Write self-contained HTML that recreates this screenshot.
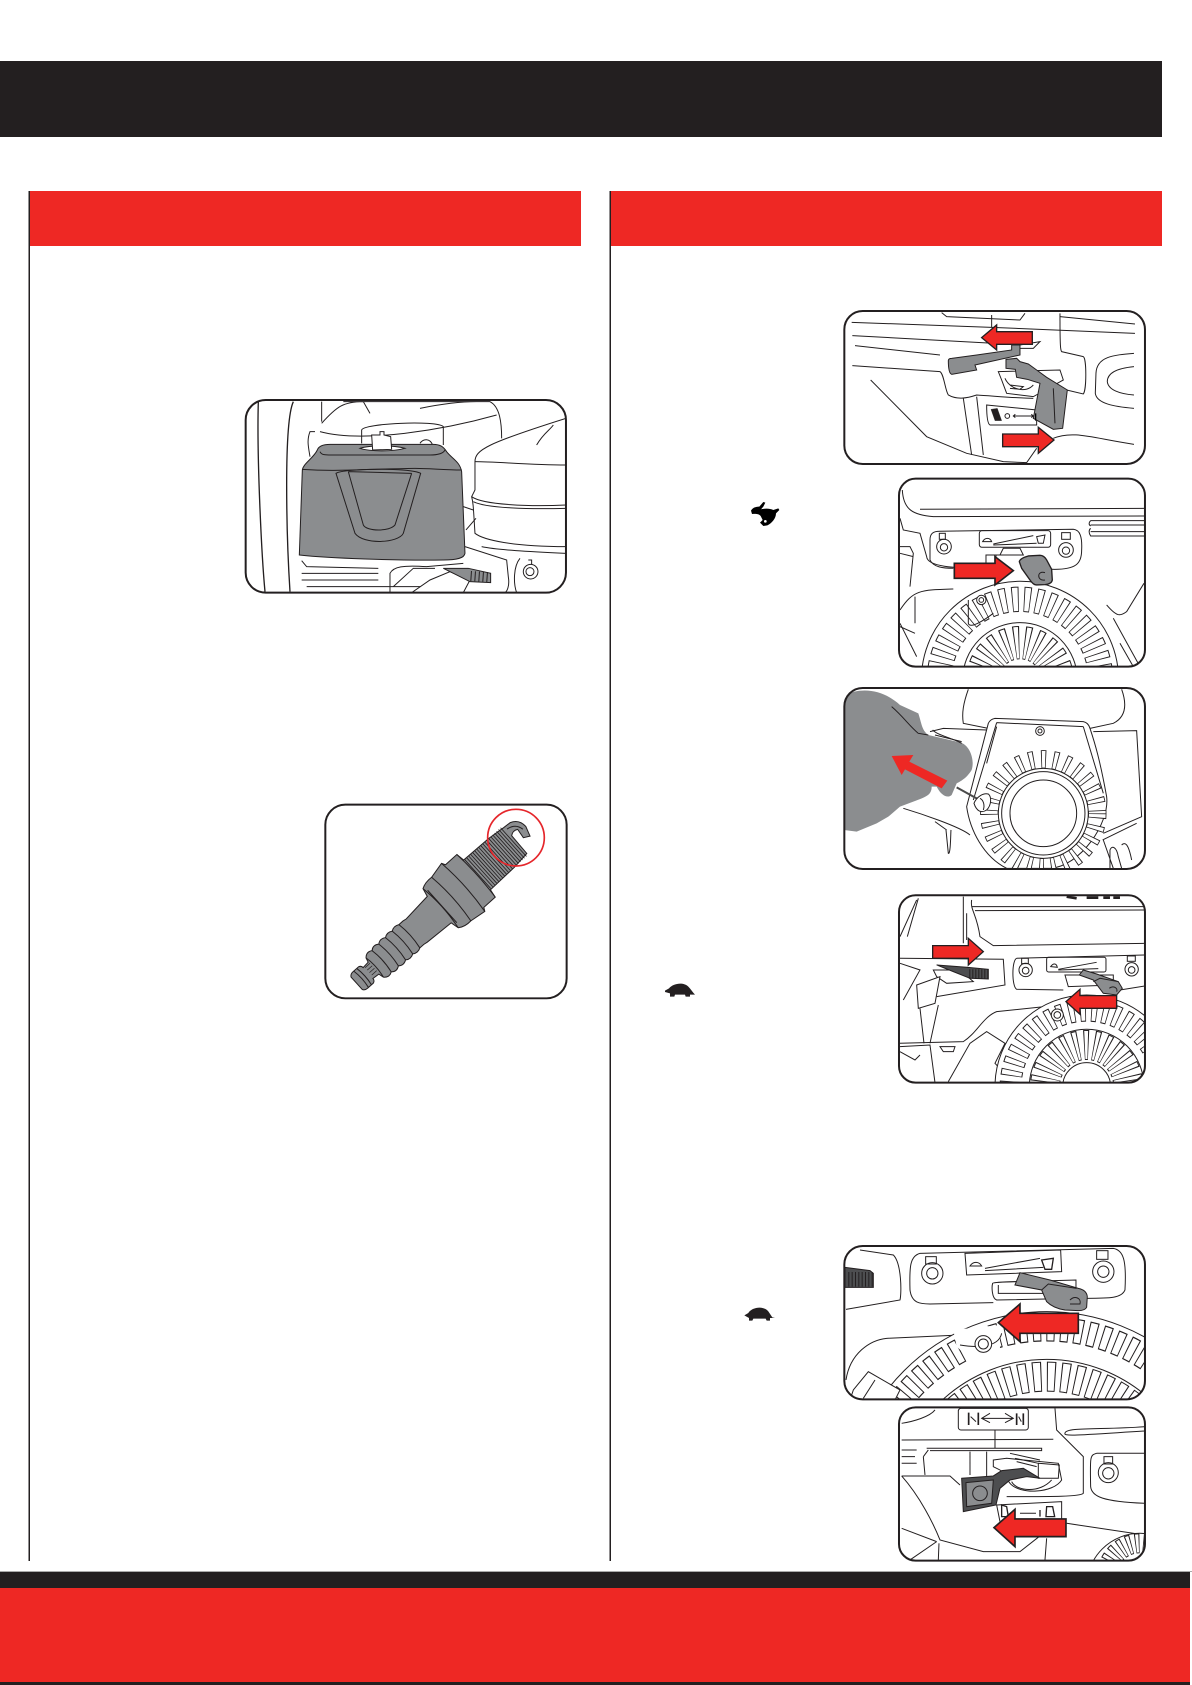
<!DOCTYPE html>
<html><head><meta charset="utf-8"><title>Diagram</title>
<style>html,body{margin:0;padding:0;background:#fff}svg{display:block}</style></head>
<body>
<svg xmlns="http://www.w3.org/2000/svg" width="1192" height="1685" viewBox="0 0 1192 1685">
<defs>
<clipPath id="c1"><rect x="73" y="63" width="902" height="459" rx="55"/></clipPath>
<clipPath id="c2"><rect x="237" y="566" width="738" height="564" rx="50"/></clipPath>
<clipPath id="c3"><rect x="73" y="24" width="902" height="543" rx="55"/></clipPath>
<clipPath id="c4"><rect x="237" y="646" width="738" height="562" rx="50"/></clipPath>
<clipPath id="c5"><rect x="73" y="48" width="902" height="460" rx="55"/></clipPath>
<clipPath id="c6"><rect x="237" y="532" width="738" height="460" rx="50"/></clipPath>
<clipPath id="cA"><rect x="47" y="30" width="961" height="578" rx="60"/></clipPath>
</defs>
<rect width="1192" height="1685" fill="#fff"/>
<rect x="0" y="61" width="1162" height="76" fill="#231f20"/>
<rect x="30" y="191" width="551" height="55" fill="#ee2824"/>
<rect x="611" y="191" width="551" height="55" fill="#ee2824"/>
<rect x="28.500" y="191" width="1.500" height="1370" fill="#231f20"/>
<rect x="609.500" y="191" width="1.500" height="1370" fill="#231f20"/>
<rect x="0" y="1571" width="1192" height="1" fill="#aaa"/>
<rect x="0" y="1572" width="1190" height="16" fill="#231f20"/>
<rect x="0" y="1588" width="1190" height="94" fill="#ee2824"/>
<rect x="0" y="1682" width="1190" height="3" fill="#231f20"/>

<!-- rabbit -->
<g transform="translate(740 490) scale(.3333)"><path fill="#000" d="M33 62C38 52 50 50 58 50L70 36L76 38L70 50L63 58C75 55 90 55 100 60L115 55L118 60L108 70C108 85 95 100 82 106L70 108L60 98L68 90L62 78C55 70 45 72 36 72Z"/><circle cx="76" cy="94" r="4" fill="#fff"/></g>
<!-- turtles -->
<g transform="translate(655 970) scale(.3333)"><path fill="#231f20" d="M30 62L42 55C55 40 85 35 100 50C108 58 112 66 120 74L105 74L105 80L92 80L90 74L60 74L58 80L45 80L45 70L30 66Z"/></g>
<g transform="translate(735 1298) scale(.3333)"><path fill="#231f20" d="M28 52L40 45C50 28 85 22 100 40L112 58L120 60L105 60L105 68L95 68L92 62L55 62L52 68L42 68L42 60Z"/></g>

<!-- Panel A : air filter -->
<g transform="translate(230 390) scale(.3333)">
<g clip-path="url(#cA)" fill="none" stroke="#231f20" stroke-width="3">
<path stroke-width="4" d="M85 35C80 200 95 500 105 605M190 35C160 100 170 450 180 605"/>
<path d="M275 35L275 95M340 35L400 35L420 70M275 100C320 50 340 35 400 35L780 35C810 50 815 100 815 145M270 125C400 160 640 120 800 75M570 55C620 45 680 35 740 35"/>
<path d="M255 125L240 125C230 150 235 170 240 200M395 160L395 120C400 100 620 90 640 110L640 165"/>
<path d="M570 160C580 145 600 145 608 165"/>
<path fill="#fff" d="M735 215C735 180 770 160 1008 85L1008 470C850 470 760 450 735 430C730 350 730 340 725 320L735 300Z"/>
<path d="M725 320C760 345 900 350 1008 345M730 335C770 355 900 358 1008 355M735 215C800 215 900 225 1008 225M920 165C940 130 960 120 970 105"/>
<path d="M700 350L730 360M708 420L738 385"/>
<path fill="#8b8d8f" d="M217 240C220 220 250 205 262 180C266 168 280 163 300 163L610 163C630 163 640 170 650 185C665 205 690 215 695 245L705 490C703 505 680 510 640 510C500 512 300 505 208 495Z"/>
<path d="M270 185C275 197 290 195 320 195L600 195C625 195 640 190 645 180M217 238C320 245 380 238 555 235C600 235 640 240 695 240"/>
<path d="M318 250C340 235 540 232 572 250L520 430C505 460 400 465 375 430Z"/>
<path d="M355 245L400 405C410 425 480 425 495 405L545 250M355 245L545 250"/>
<path fill="#fff" d="M390 175C420 165 490 165 525 175C490 185 420 185 390 175Z"/>
<path fill="#fff" d="M425 135L450 135L450 125L462 125L462 135L482 140L485 178L428 180Z"/>
<path d="M215 512L230 530L445 535M215 550L445 550M215 570L445 570M230 590L700 590"/>
<path d="M705 470L830 510L835 560C840 590 830 605 825 608M480 608L480 550C490 530 520 525 590 530L700 520"/>
<path d="M755 470C800 480 900 485 1008 490M860 608C850 580 850 530 870 505M490 590L550 535L615 535"/>
<path fill="#fff" d="M545 608L600 570L660 545L720 570L700 608Z"/>
<path fill="#8b8d8f" d="M640 535L715 535L782 550L782 578L720 575L680 555Z"/>
<path stroke-dasharray="3 9" stroke-width="30" stroke="#231f20" d="M722 558L782 562"/>
<path d="M895 510L905 510L905 522M880 545A22 22 0 1 0 924 545A22 22 0 1 0 880 545M888 545A12 12 0 1 0 912 545A12 12 0 1 0 888 545"/>
</g>
<rect x="47" y="30" width="961" height="578" rx="60" fill="none" stroke="#231f20" stroke-width="6"/>
</g>

<!-- Panel B : spark plug -->
<g transform="translate(310 790) scale(.3333)">
<rect x="46" y="44" width="724" height="581" rx="60" fill="#fff" stroke="#231f20" stroke-width="6"/>
<g transform="translate(140 580) rotate(-42)" stroke="#231f20" stroke-width="3" fill="#8b8d8f">
<path d="M0 -25Q4 -33 15 -33L38 -33Q46 -30 46 -22L68 -24L72 -38Q85 -52 100 -42Q113 -54 128 -43Q141 -54 156 -44Q169 -54 184 -45Q197 -54 212 -46L228 -46L240 -44L332 -52L338 -78Q355 -88 380 -86L430 -97L436 -86L482 -86L486 -60L585 -58L640 -52L665 -50Q692 -40 692 -10L682 20L664 10L668 -20Q655 -28 642 -18L640 52L585 58L486 60L482 86L436 86L430 97L380 90Q355 92 338 80L332 55L240 50L228 48L212 48Q197 56 184 47Q169 56 156 46Q141 56 128 45Q113 56 100 44Q85 54 72 40L68 24L46 22Q46 30 38 33L15 33Q4 33 0 25Z"/>
<g fill="none">
<path d="M18 -33Q24 0 18 33M30 -33Q36 0 30 33M72 -38Q80 0 72 40M100 -42Q108 0 100 44M128 -43Q136 0 128 45M156 -44Q164 0 156 46M184 -45Q192 0 184 47M212 -46Q220 0 212 48M338 -78Q350 0 338 80M380 -86Q392 0 380 90M430 -97Q442 0 430 97M482 -86Q490 0 482 86M345 -65L345 66"/>
<path stroke-width="2" d="M50 -18L70 -18M50 -8L70 -8M50 2L70 2M50 12L70 12"/>
<path stroke-width="116" stroke-dasharray="2.500 5.500" d="M488 0L638 0"/>
<path d="M645 -42Q675 -38 680 -10"/>
</g>
<path fill="#fff" stroke="none" d="M645 -14L660 -14L660 6L645 6Z"/>
</g>
<circle cx="618" cy="143" r="85" fill="none" stroke="#e5262b" stroke-width="5"/>
</g>

<!-- Panels 1 & 2 -->
<g transform="translate(820 290) scale(.3333)">
<g clip-path="url(#c1)" fill="none" stroke="#231f20" stroke-width="3">
<path d="M95 97L515 112L945 130M720 80L945 102M97 137L525 160M105 167L360 195M97 227L360 245C372 252 375 300 385 315C410 330 440 325 470 315C520 318 600 325 640 325"/>
<path d="M152 270L320 440L440 490L550 515L620 518L650 475M700 445C760 420 820 445 942 463"/>
<path d="M515 75L515 112M720 70C720 180 722 180 725 185L790 200C800 205 800 300 790 312L740 300M365 68L380 80L600 90L615 70"/>
<path d="M942 190C880 195 830 200 828 250L826 310C830 340 880 350 942 355M942 230C890 235 862 250 862 275C865 300 900 312 942 315"/>
<path d="M430 325L455 495M470 320L490 495"/>
<path d="M600 165L660 155L640 175L600 175"/>
<path fill="#fff" d="M535 245L720 240L730 270L640 320L560 310L545 270Z"/>
<path d="M555 265C570 300 620 310 640 285M570 285L610 290L600 298L570 295"/>
<path fill="#fff" d="M500 345L650 360L650 405L510 405Q500 400 500 345Z"/>
<path fill="#231f20" stroke-width="1" d="M513 358L532 355L545 392L525 392Z"/>
<circle cx="562" cy="378" r="7"/><path d="M580 378L640 378M586 373L580 378L586 383M634 373L640 378L634 383"/>
<path fill="#8b8d8f" d="M385 212Q385 205 395 205L470 195L575 180L575 165L600 165L600 195L465 225L470 240L395 253Q385 250 385 212Z"/>
<path fill="#8b8d8f" d="M558 208L590 205L600 215L625 222L650 240L680 262L742 300L728 415L700 418L640 385L660 280L622 268L590 262L586 238L558 235Z"/>
<path d="M700 295L705 400"/>
<path stroke="#000" stroke-width="4" d="M647 370L647 392"/>
<path fill="#ee2824" stroke-width="4" d="M637 125L530 125L530 105L485 143L530 180L530 163L637 163Z"/>
<path fill="#ee2824" stroke-width="4" d="M548 432L655 432L655 412L702 450L655 490L655 470L548 470Z"/>
</g>
<rect x="73" y="63" width="902" height="459" rx="55" fill="none" stroke="#231f20" stroke-width="6"/>

<g clip-path="url(#c2)" fill="none" stroke="#231f20" stroke-width="3">
<path d="M247 600C250 660 280 675 340 680L975 678M300 658L975 655M812 692L975 692M812 705L975 705M812 725L975 725M812 692C806 698 806 705 812 708M812 715C806 720 806 730 812 738L975 738"/>
<path d="M240 685L250 720L300 730L320 800C322 830 400 835 500 835M240 770L270 770L280 790L270 890M240 790L280 800M240 1010L285 1030"/>
<path d="M330 750C330 730 340 724 360 724L760 718C780 720 787 740 785 780C785 820 770 840 695 838"/>
<path d="M330 750L330 810C340 832 370 835 400 835"/>
<circle cx="372" cy="770" r="22"/><circle cx="372" cy="772" r="11"/><rect x="358" y="730" width="18" height="18"/>
<circle cx="738" cy="780" r="22"/><circle cx="738" cy="782" r="11"/><rect x="725" y="728" width="26" height="20"/>
<rect x="478" y="722" width="214" height="50" rx="8"/>
<path d="M520 762L640 737M520 765L650 760M488 755C495 742 510 742 515 755Z"/>
<path fill="#fff" d="M650 740L675 735L670 760L655 760Z"/>
<path d="M240 960C280 900 300 900 400 897M285 920L285 1000M240 1000L290 1100"/>
<circle cx="600" cy="1170" r="296" fill="#fff"/>
<circle cx="600" cy="1170" r="242" stroke-width="76" stroke-dasharray="20 16"/>
<circle cx="600" cy="1170" r="242" stroke="#fff" stroke-width="70" stroke-dasharray="15 21" stroke-dashoffset="-2.500"/>
<circle cx="600" cy="1170" r="172" stroke-width="3" fill="#fff"/>
<circle cx="600" cy="1170" r="112" stroke-width="100" stroke-dasharray="15 15"/>
<circle cx="600" cy="1170" r="112" stroke="#fff" stroke-width="94" stroke-dasharray="10 20" stroke-dashoffset="-2.500"/>
<circle cx="484" cy="930" r="14" fill="#fff"/><circle cx="484" cy="930" r="7"/>
<path d="M445 930L445 1000C450 1020 500 985 520 970M860 945C890 980 900 980 920 965L972 880M880 985L960 1130M900 1060L940 1130"/>
<path fill="#fff" d="M498 795L610 795L600 775L550 775L540 795Z"/>
<path fill="#fff" d="M498 795L528 795L528 830L498 830Z"/>
<path fill="#8b8d8f" stroke-width="4" d="M598 815Q600 805 625 798L660 796Q672 796 680 810L695 838L697 870Q695 882 675 884L650 885Q640 885 630 870L605 835Z"/>
<path d="M675 848C650 840 650 875 675 870"/>
<path fill="#ee2824" stroke-width="5" d="M403 820L525 820L525 800L580 842L525 885L525 865L403 865Z"/>
</g>
<rect x="237" y="566" width="738" height="564" rx="50" fill="none" stroke="#231f20" stroke-width="6"/>
</g>

<!-- Panels 3 & 4 -->
<g transform="translate(820 680) scale(.3333)">
<g clip-path="url(#c3)" fill="none" stroke="#231f20" stroke-width="3">
<path d="M445 28C430 70 425 100 430 130L505 145M905 28C920 70 920 110 880 130L810 145M820 155L950 152L965 410L850 460M848 480L950 430M880 565L850 480"/>
<path d="M870 565L870 510C875 495 890 500 895 530L905 565M905 495C915 485 925 490 935 540"/>
<path d="M330 155L370 145L500 150M345 165L425 185M250 385C300 400 420 440 450 465"/>
<path d="M378 450L385 520C392 525 392 460 393 450"/>
<path d="M345 425L380 450"/>
<path fill="#fff" d="M525 115L790 125Q805 128 810 145C825 190 840 240 860 350C870 430 780 560 690 565L560 565C490 530 450 450 440 380L505 130Q510 118 525 115Z"/>
<path d="M530 128L790 140M530 128L460 360"/>
<path d="M530 140L500 250M790 140L850 340"/>
<circle cx="660" cy="153" r="13"/><circle cx="660" cy="153" r="6"/>
<circle cx="670" cy="400" r="162" stroke-width="55" stroke-dasharray="15 21"/>
<circle cx="670" cy="400" r="162" stroke="#fff" stroke-width="50" stroke-dasharray="10 26" stroke-dashoffset="-2.500"/>
<circle cx="670" cy="400" r="135" fill="#fff"/><circle cx="670" cy="400" r="125"/><circle cx="670" cy="400" r="100"/>
<path fill="#8b8d8f" stroke="none" d="M72 45C130 20 190 30 240 75L295 100C305 130 305 150 325 165L420 187C450 195 465 240 455 270C440 295 420 305 410 310L395 345C385 355 365 350 350 320L335 320C335 345 320 350 280 365L240 380L205 410L170 430L110 455L72 450Z"/>
<path d="M215 80C250 110 270 140 295 160L325 165"/>
<path d="M338 150C350 165 400 175 425 190"/>
<path stroke-width="6" stroke="#4a4a4a" d="M410 322L482 362"/>
<path fill="#fff" d="M462 370C470 350 490 338 505 342C515 350 515 375 500 390C485 400 470 395 462 370Z"/>
<path d="M480 355C490 360 495 375 490 390"/>
<path fill="#ee2824" stroke="none" d="M382 302L365 325L255 268L245 285L215 228L280 225L268 245Z"/>
</g>
<rect x="73" y="24" width="902" height="543" rx="55" fill="none" stroke="#231f20" stroke-width="6"/>

<g clip-path="url(#c4)" fill="none" stroke="#231f20" stroke-width="3">
<path stroke-width="8" d="M740 650L770 655M800 653L835 653M850 653L870 653M880 653L900 653"/>
<path d="M455 660C450 690 470 700 480 770L520 797L975 790M455 680L970 680M465 692L975 690M430 650L430 790M440 700L440 780"/>
<path d="M240 835L550 838L555 915L350 950M290 660L240 770M262 770L295 655"/>
<path d="M590 835L975 825M590 835C575 840 575 920 590 928L730 930M900 930L975 918"/>
<circle cx="617" cy="870" r="20"/><circle cx="617" cy="872" r="10"/><rect x="605" y="835" width="20" height="16"/>
<circle cx="935" cy="868" r="20"/><circle cx="935" cy="870" r="10"/><rect x="922" y="828" width="24" height="16"/>
<rect x="680" y="832" width="178" height="44" rx="6"/>
<path d="M715 868L830 847M715 870L835 866M692 860C700 848 710 850 712 862Z"/>
<path d="M240 1090L430 1085C470 1060 490 1010 530 995L720 975"/>
<path d="M300 985L312 1090M355 975L330 1090"/>
<path d="M240 1100L330 1095L345 1208M385 1205L450 1090L500 1055L555 1090L525 1150L580 1208"/>
<path d="M360 1100L405 1100L400 1115L370 1115Z"/>
<path d="M240 1115L285 1140L300 1125"/>
<circle cx="800" cy="1220" r="275" fill="#fff"/>
<circle cx="800" cy="1220" r="228" stroke-width="66" stroke-dasharray="18 16"/>
<circle cx="800" cy="1220" r="228" stroke="#fff" stroke-width="60" stroke-dasharray="13 21" stroke-dashoffset="-2.500"/>
<circle cx="800" cy="1220" r="172" fill="#fff"/>
<circle cx="800" cy="1220" r="125" stroke-width="90" stroke-dasharray="14 15"/>
<circle cx="800" cy="1220" r="125" stroke="#fff" stroke-width="84" stroke-dasharray="9 20" stroke-dashoffset="-2.500"/>
<circle cx="800" cy="1220" r="72" fill="#fff"/>
<circle cx="712" cy="1005" r="18" fill="#fff"/><circle cx="712" cy="1005" r="10"/>
<path fill="#fff" d="M735 885L880 885L880 915L745 920Z"/>
<path fill="#8b8d8f" d="M778 885L790 870L830 882L895 905L907 925L890 945L850 940L820 900Z"/>
<path d="M820 905L840 895L895 905M868 925C880 915 895 925 890 935"/>
<path d="M240 850L300 870L250 960"/>
<path fill="#fff" d="M340 870L420 870L460 905L380 910L350 890Z"/>
<path fill="#fff" d="M290 915L360 890L345 970L295 985Z"/>
<path fill="#4d4e50" d="M350 855L440 862L505 868L505 897L450 895L400 875Z"/>
<path stroke-dasharray="3 6" stroke-width="28" d="M448 882L506 882"/>
<path fill="#ee2824" stroke-width="4" d="M338 797L445 797L445 775L490 815L445 855L445 835L338 835Z"/>
<path fill="#ee2824" stroke-width="4" d="M890 947L780 947L780 928L738 965L780 1003L780 985L890 985Z"/>
</g>
<rect x="237" y="646" width="738" height="562" rx="50" fill="none" stroke="#231f20" stroke-width="6"/>
</g>

<!-- Panels 5 & 6 -->
<g transform="translate(820 1230) scale(.3333)">
<g clip-path="url(#c5)" fill="none" stroke="#231f20" stroke-width="3">
<path d="M120 60L220 75C245 100 245 190 240 210L78 238"/>
<path fill="#4d4e50" d="M75 112L150 122L160 130L160 172L75 172Z"/>
<path stroke-dasharray="3 7" stroke-width="44" d="M85 148L158 148"/>
<path d="M300 70L880 55C910 60 920 90 915 180C905 205 870 205 800 205M300 70C270 78 268 110 270 180C275 220 300 222 330 222L520 218"/>
<circle cx="337" cy="130" r="32"/><circle cx="337" cy="130" r="17"/><rect x="317" y="80" width="32" height="22"/>
<circle cx="850" cy="125" r="32"/><circle cx="850" cy="125" r="17"/><rect x="830" y="62" width="34" height="26"/>
<path d="M435 70L722 60L725 125L440 135Z"/>
<path d="M495 115L660 85M495 122L670 112M450 108C460 92 478 95 485 108Z"/>
<path stroke-width="4" d="M665 90L700 85L695 118L675 118Z"/>
<path d="M78 450C90 370 150 330 200 325L420 315C480 305 510 285 540 270"/>
<circle cx="680" cy="850" r="605" fill="#fff"/>
<circle cx="680" cy="850" r="553" stroke-width="75" stroke-dasharray="26 16"/>
<circle cx="680" cy="850" r="553" stroke="#fff" stroke-width="68" stroke-dasharray="20 22" stroke-dashoffset="-3"/>
<circle cx="680" cy="850" r="462" fill="#fff"/>
<circle cx="680" cy="850" r="410" stroke-width="90" stroke-dasharray="26 16"/>
<circle cx="680" cy="850" r="410" stroke="#fff" stroke-width="84" stroke-dasharray="20 22" stroke-dashoffset="-3"/>
<path fill="#fff" stroke="none" d="M400 300L540 285L540 385L470 405L410 350Z"/>
<path d="M420 345C450 350 535 360 545 310"/>
<circle cx="490" cy="342" r="25" fill="#fff"/><circle cx="490" cy="342" r="15"/>
<path fill="#fff" d="M100 480L145 425L240 480L225 510L90 510Z"/>
<path d="M130 505L165 450"/>
<path fill="#fff" d="M518 160C520 155 590 155 768 150L768 205L530 210C515 205 515 170 518 160Z"/>
<path d="M535 165L535 190L700 190"/>
<path fill="#8b8d8f" d="M585 165L600 128L690 150L775 175Q800 180 802 200L800 232Q795 242 775 242L735 240Q700 235 680 215L665 180Z"/>
<path d="M665 180L685 162L770 175M750 210C765 195 785 205 780 222L750 222"/>
<path fill="#ee2824" stroke-width="5" d="M775 250L600 250L600 222L535 278L600 335L600 310L775 310Z"/>
</g>
<rect x="73" y="48" width="902" height="460" rx="55" fill="none" stroke="#231f20" stroke-width="6"/>

<g clip-path="url(#c6)" fill="none" stroke="#231f20" stroke-width="3">
<rect x="415" y="535" width="210" height="65" rx="8"/>
<path stroke-width="5" d="M446 548L446 585M475 548L475 585M590 550L590 585M610 550L610 585"/>
<path d="M452 560L468 575M596 560L604 575M485 565L580 565M510 550L485 565L510 578M555 550L580 565L555 578"/>
<path d="M525 600L525 655M245 630L700 628M705 535L710 600L790 680L790 790C780 800 700 800 560 800"/>
<path d="M245 580C280 575 330 560 345 540"/>
<path d="M975 590C850 600 735 590 735 610C730 620 780 615 975 603"/>
<path d="M975 670L830 670C810 675 810 680 812 770C815 800 850 815 975 820"/>
<circle cx="865" cy="728" r="30"/><circle cx="865" cy="730" r="17"/><rect x="852" y="680" width="26" height="22"/>
<path d="M320 655L665 655L665 662L330 662M310 680L325 660M310 680L315 735M245 660L290 660M245 680L285 680M245 700L290 700M450 665L450 735M500 665L500 780"/>
<path fill="#fff" d="M520 690L560 685L715 700L725 750C700 790 600 795 570 760L540 720L520 710Z"/>
<path d="M570 670L660 690M585 685L655 700M590 695L650 710M655 700L718 705L715 745L655 745Z"/>
<path d="M575 755C590 785 660 790 695 750"/>
<path d="M245 738L390 738L420 765M245 738C300 800 340 880 360 930L490 965L600 965L670 910M245 895L350 935M350 935L270 990M680 925L675 990M357 940L355 990M740 880L975 915"/>
<path fill="#fff" d="M530 825L725 815L725 880L540 875Z"/>
<path stroke-width="4" d="M545 825L545 860L565 860L560 830ZM660 840L660 860M680 830L698 830L704 860L678 860Z"/>
<path d="M600 850L648 850"/>
<path fill="#4d4e50" d="M425 745L520 738L545 722L610 715L660 745L620 740L570 750L540 775L528 825L430 845Z"/>
<path d="M438 758L520 750L515 820L440 830Z" stroke="#231f20" fill="#8b8d8f"/>
<circle cx="480" cy="790" r="22" fill="#8b8d8f"/>
<path fill="#ee2824" stroke-width="5" d="M738 867L585 867L585 838L522 893L585 950L585 920L738 920Z"/>
<circle cx="960" cy="1070" r="160" fill="#fff"/>
<circle cx="960" cy="1040" r="100" stroke-width="60" stroke-dasharray="13 11"/>
<circle cx="960" cy="1040" r="100" stroke="#fff" stroke-width="54" stroke-dasharray="8 16" stroke-dashoffset="-2.500"/>
</g>
<rect x="237" y="532" width="738" height="460" rx="50" fill="none" stroke="#231f20" stroke-width="6"/>
</g>
</svg>
</body></html>
